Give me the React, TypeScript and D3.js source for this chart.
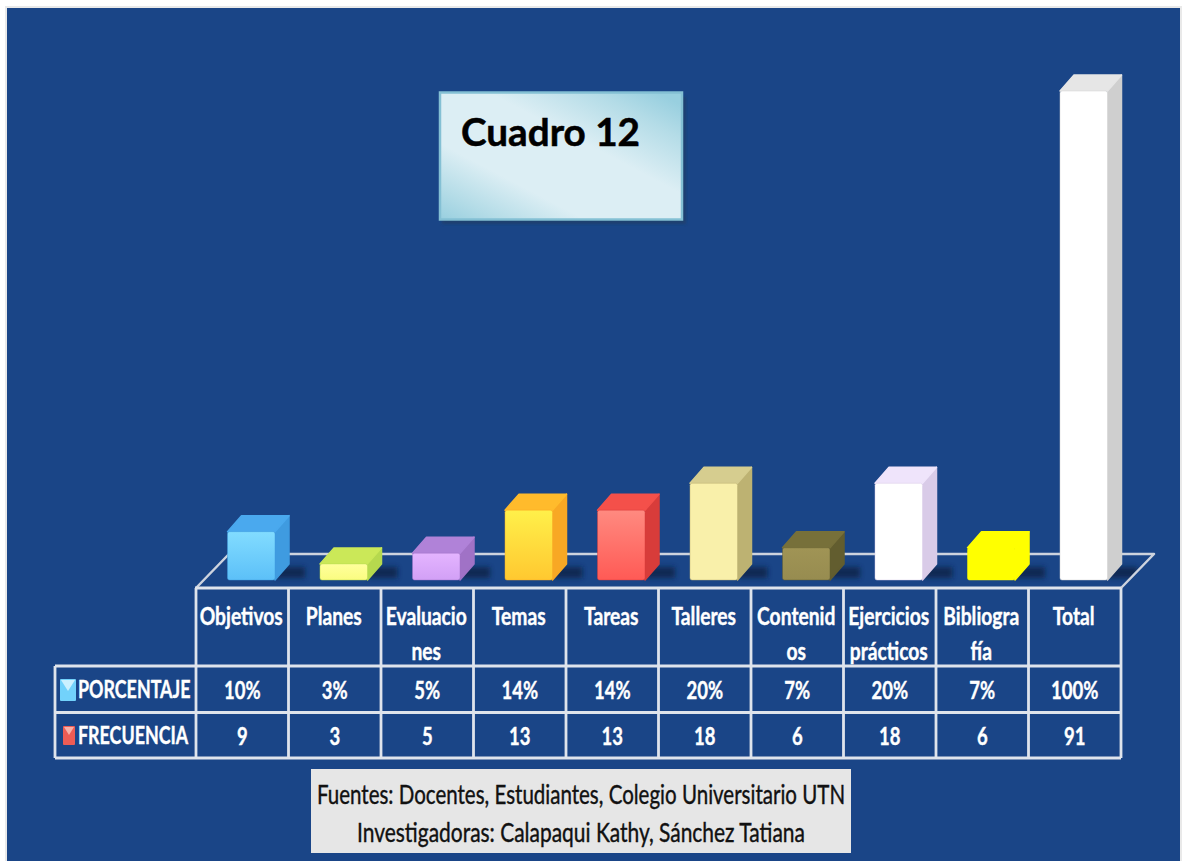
import React from "react";
import * as d3 from "d3";

const categories = [["Objetivos"], ["Planes"], ["Evaluacio", "nes"], ["Temas"], ["Tareas"], ["Talleres"], ["Contenid", "os"], ["Ejercicios", "prácticos"], ["Bibliogra", "fía"], ["Total"]];
const porcentaje = ["10%", "3%", "5%", "14%", "14%", "20%", "7%", "20%", "7%", "100%"];
const frecuencia = [9, 3, 5, 13, 13, 18, 6, 18, 6, 91];
const frontTop = ["#82dcff", "#ffff9c", "#e4b4ff", "#fff04a", "#ff8a80", "#f9f0aa", "#a09455", "#ffffff", "#ffff00", "#ffffff"];
const frontBottom = ["#5cc0f8", "#fafc80", "#d2a0f6", "#ffc830", "#ff5a55", "#f9f0aa", "#978c50", "#ffffff", "#ffff00", "#ffffff"];
const topColors = ["#4aa9ee", "#cbe858", "#b082d8", "#ffbb2c", "#f4504a", "#d6cd8f", "#77703a", "#efe4fb", "#ffff00", "#e6e6e6"];
const sideColors = ["#3f9be0", "#b6d94e", "#a072c6", "#f8a824", "#d83c3a", "#bdb272", "#625d2f", "#d9cbe8", "#ffff00", "#cfcfcf"];

const FONT = "Lato, 'Liberation Sans', sans-serif";
const tableLeft = 196, tableRight = 1121, legendLeft = 55;
const floorY = 588, headerY = 666, rowY = 712.5, bottomY = 758;
const depthX = 14, depthY = 16;
const floorDX = 33, floorDY = 34;

const x = d3.scaleBand<number>().domain(d3.range(categories.length)).range([tableLeft, tableRight]);
const y = d3.scaleLinear().domain([0, 91]).range([580, 91]);
const barW = 47.5, barOffset = 31.5;
const lineC = "#dfe4ec";

function T({ x, y, children, size = 25, anchor = "middle", fill = "#fff", weight = 700, sx = 0.77, stroke = "#fff", sw = 0.4 }: any) {
  return (
    <text transform={`translate(${x},${y}) scale(${sx},1)`} fontFamily={FONT} fontSize={size} fontWeight={weight} fill={fill} textAnchor={anchor}
      stroke={stroke} strokeWidth={sw}>
      {children}
    </text>
  );
}

export default function App() {
  const ticks = x.domain().map((i) => x(i)!).concat(tableRight);
  const floorPath = `M${tableLeft},${floorY} L${tableLeft + floorDX},${floorY - floorDY} H${tableRight + floorDX} L${tableRight},${floorY} Z`;
  return (
    <svg width={1182} height={861} style={{ position: "absolute", left: 0, top: 0, display: "block" }}>
      <defs>
        <linearGradient id="titleG" x1="0" y1="1" x2="1" y2="0">
          <stop offset="0" stopColor="#98cfdf" />
          <stop offset="0.12" stopColor="#b4dce7" />
          <stop offset="0.3" stopColor="#dceef4" />
          <stop offset="0.6" stopColor="#dceef4" />
          <stop offset="0.82" stopColor="#b4dce7" />
          <stop offset="0.95" stopColor="#98cfdf" />
        </linearGradient>
        <filter id="blur" x="-30%" y="-60%" width="160%" height="220%"><feGaussianBlur stdDeviation="2.5" /></filter>
        <filter id="blurS" x="-10%" y="-10%" width="120%" height="130%"><feGaussianBlur stdDeviation="1.5" /></filter>
        <clipPath id="floorClip"><path d={floorPath} /></clipPath>
        {categories.map((_, i) => (
          <linearGradient key={i} id={`f${i}`} x1="0" y1="0" x2="0" y2="1">
            <stop offset="0" stopColor={frontTop[i]} />
            <stop offset="1" stopColor={frontBottom[i]} />
          </linearGradient>
        ))}
      </defs>

      <rect x={0} y={0} width={1182} height={861} fill="#ffffff" />
      <rect x={5} y={6} width={1177} height={855} fill="#e9e9e9" />
      <rect x={7} y={8} width={1173} height={853} fill="#1a4587" />

      {/* Title box */}
      <rect x={442} y={97} width={244} height={127} fill="#1d3f6e" filter="url(#blurS)" />
      <rect x={440} y={92.5} width={242} height={127} fill="url(#titleG)" stroke="#84c0d4" strokeWidth={2.5} />
      <text x={461} y={146} fontFamily={FONT} fontSize={38} fontWeight={700} fill="#000" stroke="#000" strokeWidth={0.5} textLength={179} lengthAdjust="spacingAndGlyphs">Cuadro 12</text>

      {/* Shadows on the floor */}
      <g clipPath="url(#floorClip)">
        {frecuencia.map((_, i) => {
          const bx = x(i)! + barOffset;
          return <rect key={i} x={bx + barW} y={567} width={30} height={11} fill="#0c2344" opacity={0.8} filter="url(#blur)" />;
        })}
      </g>

      {/* Floor */}
      <path d={`M${tableLeft},${floorY} L${tableLeft + floorDX},${floorY - floorDY} H${tableRight + floorDX} L${tableRight},${floorY}`} fill="none" stroke="#cdd3de" strokeWidth={2.5} strokeLinejoin="round" />

      {/* Bars */}
      {frecuencia.map((v, i) => {
        const bx = x(i)! + barOffset, top = y(v), r = 580;
        const top_ = `M${bx},${top} l${depthX},${-depthY} h${barW} l${-depthX},${depthY} Z`;
        const side = `M${bx + barW},${top} l${depthX},${-depthY} V${r - depthY} l${-depthX},${depthY} Z`;
        return (
          <g key={i}>
            <path d={side} fill={sideColors[i]} stroke={sideColors[i]} strokeWidth={1.5} strokeLinejoin="round" />
            <path d={top_} fill={topColors[i]} stroke={topColors[i]} strokeWidth={1.5} strokeLinejoin="round" />
            <rect x={bx} y={top} width={barW} height={r - top} fill={`url(#f${i})`} rx={2} stroke={sideColors[i]} strokeOpacity={0.6} strokeWidth={0.8} />
          </g>
        );
      })}

      {/* Table grid */}
      <g stroke={lineC} strokeWidth={2.8} fill="none">
        <line x1={tableLeft - 1} x2={tableRight} y1={floorY} y2={floorY} />
        <line x1={legendLeft} x2={tableRight} y1={headerY} y2={headerY} />
        <line x1={legendLeft} x2={tableRight} y1={rowY} y2={rowY} />
        <line x1={legendLeft} x2={tableRight} y1={bottomY} y2={bottomY} />
        <line x1={legendLeft} x2={legendLeft} y1={headerY} y2={bottomY} />
        {ticks.map((t, i) => <line key={i} x1={t} x2={t} y1={floorY} y2={bottomY} />)}
      </g>

      {/* Header labels */}
      {categories.map((lines, i) =>
        lines.map((s, k) => (
          <T key={`${i}-${k}`} x={x(i)! + x.bandwidth() / 2 - 1} y={625 + k * 35}>{s}</T>
        ))
      )}

      {/* Legend rows */}
      <rect x={60} y={679} width={16} height={22} rx={1} fill="#72d2fb" />
      <path d="M61,680 H75 L68,691 Z" fill="#ccf1ff" />
      <rect x={63} y={726} width={12} height={19} rx={1} fill="#ee5c55" />
      <path d="M64,727 H74 L69,735 Z" fill="#f8b0a8" />
      <T x={78} y={698} anchor="start" sx={0.715}>PORCENTAJE</T>
      <T x={78} y={744} anchor="start" sx={0.715}>FRECUENCIA</T>

      {porcentaje.map((p, i) => <T key={i} x={x(i)! + x.bandwidth() / 2} y={699} sx={0.74}>{p}</T>)}
      {frecuencia.map((f, i) => <T key={i} x={x(i)! + x.bandwidth() / 2} y={745} sx={0.74}>{f}</T>)}

      {/* Source box */}
      <rect x={311} y={769} width={540} height={84} fill="#e6e6e6" />
      <T x={581} y={804} size={27} fill="#111" weight={400} sx={0.76} stroke="#111">Fuentes: Docentes, Estudiantes, Colegio Universitario UTN</T>
      <T x={581} y={842} size={27} fill="#111" weight={400} sx={0.776} stroke="#111">Investigadoras: Calapaqui Kathy, Sánchez Tatiana</T>
    </svg>
  );
}
